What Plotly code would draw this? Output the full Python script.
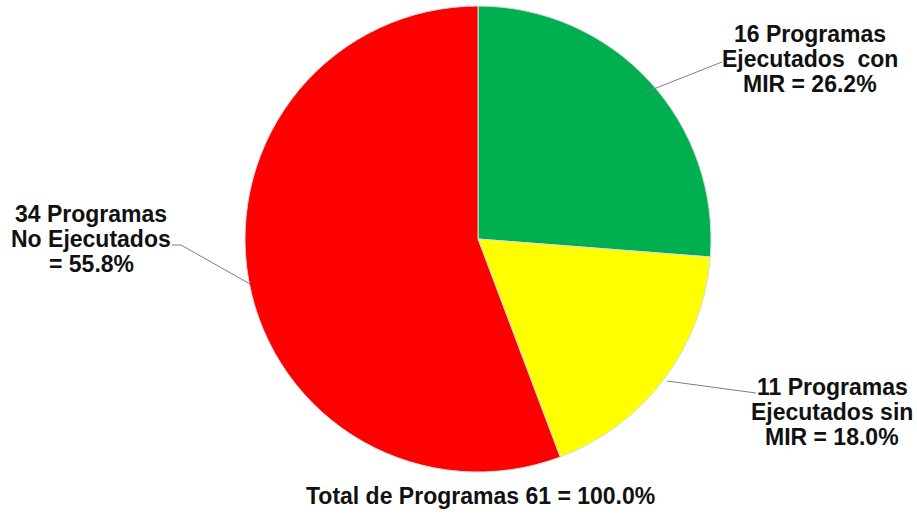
import plotly.graph_objects as go

categories = ["Ejecutados con MIR", "Ejecutados sin MIR", "No Ejecutados"]
counts = [16, 11, 34]
percent_labels = ["26.2%", "18.0%", "55.8%"]
colors = ["#00B050", "#FFFF00", "#FF0000"]
total_label = "Total de Programas 61 = 100.0%"

W, H = 917, 514
cx, cy, r = 478, 239, 233

def px(x):
    return x / W

def py(y):
    return 1 - y / H

fig = go.Figure(go.Pie(
    labels=categories,
    values=counts,
    marker=dict(colors=colors, line=dict(color="#D9D9D9", width=1)),
    sort=False,
    direction="clockwise",
    rotation=0,
    textinfo="none",
    hoverinfo="label+value+percent",
    domain=dict(x=[px(cx - r), px(cx + r)], y=[py(cy + r), py(cy - r)]),
    showlegend=False,
))

font = dict(family="Liberation Sans, Arial, sans-serif", size=23, color="#111111")

label_lines = [
    [f"{counts[0]} Programas", "Ejecutados  con", f"MIR = {percent_labels[0]}"],
    [f"{counts[1]} Programas", "Ejecutados sin", f"MIR = {percent_labels[1]}"],
    [f"{counts[2]} Programas", "No Ejecutados", f"= {percent_labels[2]}"],
]
label_pos = [(810, 34), (832, 387), (91, 214)]
line_gap = 25

annotations = []
for lines, (x, y0) in zip(label_lines, label_pos):
    for i, t in enumerate(lines):
        annotations.append(dict(x=px(x), y=py(y0 + i * line_gap), xref="paper", yref="paper",
                                text=f"<b>{t}</b>", showarrow=False, font=font,
                                xanchor="center", yanchor="middle"))
annotations.append(dict(x=px(480), y=py(496), xref="paper", yref="paper",
                        text=f"<b>{total_label}</b>", showarrow=False, font=font,
                        xanchor="center", yanchor="middle"))

line_style = dict(color="#7F7F7F", width=1)
shapes = [
    dict(type="line", xref="paper", yref="paper", x0=px(722), y0=py(62), x1=px(646), y1=py(92), line=line_style),
    dict(type="line", xref="paper", yref="paper", x0=px(172), y0=py(245), x1=px(181), y1=py(245), line=line_style),
    dict(type="line", xref="paper", yref="paper", x0=px(181), y0=py(245), x1=px(250), y1=py(284), line=line_style),
    dict(type="line", xref="paper", yref="paper", x0=px(756), y0=py(393), x1=px(667), y1=py(381), line=line_style),
]

fig.update_layout(
    width=W, height=H,
    margin=dict(l=0, r=0, t=0, b=0),
    paper_bgcolor="white",
    plot_bgcolor="white",
    annotations=annotations,
    shapes=shapes,
)

fig.write_html("out.html", config={"displayModeBar": False},
               post_script="document.body.style.margin='0';document.body.style.overflow='hidden';")
